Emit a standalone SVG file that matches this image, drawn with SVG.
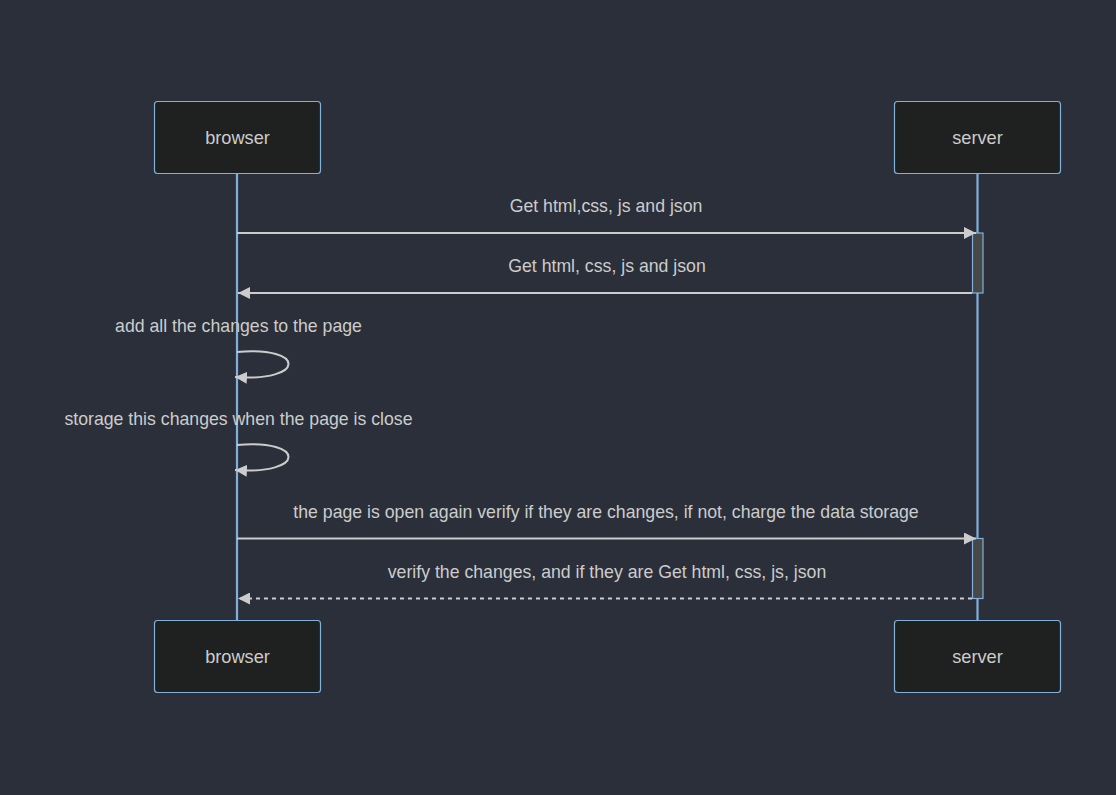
<svg xmlns="http://www.w3.org/2000/svg" width="1116" height="795" viewBox="0 0 1116 795">
<defs>
<style>
.actor{fill:#1f2020;stroke:#81B1DB;stroke-width:1.2}
.atext{fill:#cccccc;font-family:"Liberation Sans",Arial,sans-serif;font-size:18.2px;text-anchor:middle;dominant-baseline:central}
.life{stroke:#81B1DB;stroke-width:2.2}
.msg{stroke:#cccccc;stroke-width:2;fill:none}
.dash{stroke-dasharray:4,4}
.mtext{fill:#cccccc;font-family:"Liberation Sans",Arial,sans-serif;font-size:17.7px;text-anchor:middle;dominant-baseline:central}
.act{fill:#474949;stroke:#81B1DB;stroke-width:1.2}
</style>
<marker id="arrow" viewBox="0 0 12 12" markerWidth="12" markerHeight="12" refX="12" refY="6" orient="auto" markerUnits="userSpaceOnUse">
<path d="M0,0 L12,6 L0,12 Z" fill="#cccccc"/>
</marker>
</defs>
<rect width="1116" height="795" fill="#2a2f3a"/>
<g id="lifelines">
<line class="life" x1="237" y1="173" x2="237" y2="621"/>
<line class="life" x1="977.5" y1="173" x2="977.5" y2="621"/>
</g>
<g id="actor-browser-top"><rect class="actor" x="154.5" y="101.5" width="166" height="72" rx="3"/><text class="atext" x="237.5" y="138">browser</text></g>
<g id="actor-server-top"><rect class="actor" x="894.5" y="101.5" width="166" height="72" rx="3"/><text class="atext" x="977.5" y="138">server</text></g>
<g id="actor-browser-bottom"><rect class="actor" x="154.5" y="620.5" width="166" height="72" rx="3"/><text class="atext" x="237.5" y="657">browser</text></g>
<g id="actor-server-bottom"><rect class="actor" x="894.5" y="620.5" width="166" height="72" rx="3"/><text class="atext" x="977.5" y="657">server</text></g>
<g id="activations">
<rect class="act" x="972.5" y="233" width="10.5" height="60"/>
<rect class="act" x="972.5" y="538.5" width="10.5" height="60"/>
</g>
<g id="connectors">
<line class="msg" x1="237" y1="233" x2="976" y2="233" marker-end="url(#arrow)"/>
<line class="msg" x1="972" y1="293" x2="238" y2="293" marker-end="url(#arrow)"/>
<path class="msg" d="M237,352 C306,346 306,382 235,377" marker-end="url(#arrow)"/>
<path class="msg" d="M237,445 C306,439 306,475 235,470" marker-end="url(#arrow)"/>
<line class="msg" x1="237" y1="538.5" x2="976" y2="538.5" marker-end="url(#arrow)"/>
<line class="msg dash" x1="972" y1="598.5" x2="238" y2="598.5" marker-end="url(#arrow)"/>
</g>
<g id="labels">
<text class="mtext" x="606" y="206">Get html,css, js and json</text>
<text class="mtext" x="607" y="266">Get html, css, js and json</text>
<text class="mtext" x="238.5" y="326">add all the changes to the page</text>
<text class="mtext" x="238.5" y="419">storage this changes when the page is close</text>
<text class="mtext" x="606" y="512">the page is open again verify if they are changes, if not, charge the data storage</text>
<text class="mtext" x="607" y="572">verify the changes, and if they are Get html, css, js, json</text>
</g>
</svg>
